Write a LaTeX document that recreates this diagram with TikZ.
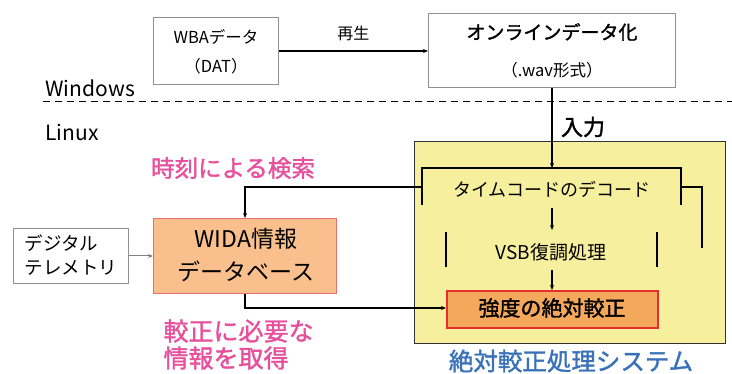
\documentclass[tikz,border=0pt]{standalone}
\usepackage{fontspec}
\setmainfont{Noto Sans CJK JP}
\newfontfamily\jpb[FakeBold=1.5]{Noto Sans CJK JP}
\usetikzlibrary{arrows.meta}
\definecolor{sysyellow}{HTML}{F6EF9E}
\definecolor{dbfill}{HTML}{F9C08E}
\definecolor{dbedge}{HTML}{E8706A}
\definecolor{calfill}{HTML}{F4A85C}
\definecolor{caledge}{HTML}{E62E2E}
\definecolor{pinktxt}{HTML}{E6509C}
\definecolor{bluetxt}{HTML}{3A72B8}
\definecolor{boxedge}{HTML}{909090}
\tikzset{
  wbox/.style={draw=boxedge, line width=0.9pt, fill=white},
  conn/.style={line width=1.1pt, -{Stealth[length=5pt,width=4pt]}},
  line/.style={line width=1.1pt},
  fs/.style={font=\fontsize{#1}{#1}\selectfont}
}
\begin{document}
\begin{tikzpicture}[x=1pt,y=-1pt]
\useasboundingbox (0,0) rectangle (732,374);
% Windows / Linux separator
\draw[line width=1pt, dash pattern=on 7pt off 5pt] (43,102) -- (732,102);
\node[anchor=west, fs=21] (win) at (42,88) {Windows};
\node[anchor=west, fs=21] (lin) at (42,133) {Linux};
% WBA box
\node[wbox, minimum width=125pt, minimum height=67pt, anchor=north west, inner sep=0pt] (wba) at (153,17) {};
\node[fs=16.5] (wbat1) at (216,37) {WBAデータ};
\node[fs=16.5] (wbat2) at (216,66) {（DAT）};
% Online box
\node[wbox, minimum width=247pt, minimum height=74pt, anchor=north west, inner sep=0pt] (onl) at (428,13) {};
\node[font=\jpb\fontsize{19}{19}\selectfont] (onlt1) at (552,32) {オンラインデータ化};
\node[fs=16.5] (onlt2) at (552,70) {（.wav形式）};
\draw[conn] (wba.east |- 0,51) -- (onl.west |- 0,51) node[midway, above=6pt, fs=16] (play) {再生};
% system box
\node[draw=black!80, line width=1.2pt, fill=sysyellow, minimum width=311pt, minimum height=202pt, anchor=north west, inner sep=0pt] (sys) at (414,141) {};
\node[font=\jpb\fontsize{22}{22}\selectfont] (inp) at (583,127) {入力};
% timecode decode bracket box
\coordinate (tcl) at (422,168);
\coordinate (tcr) at (681,168);
\draw[line] (422,205) -- (tcl) -- (tcr) -- (681,205);
\node[fs=18] (tc) at (552,189) {タイムコードのデコード};
\draw[conn] (onl.south -| 552,0) -- (552,168);
% VSB
\draw[line] (446,232) -- (446,267);
\draw[line] (657,232) -- (657,267);
\node[fs=19] (vsb) at (551,252) {VSB復調処理};
\draw[conn] (552,208) -- (552,230);
% calibration box
\node[draw=caledge, line width=2.2pt, fill=calfill, minimum width=211pt, minimum height=37pt, anchor=north west, inner sep=0pt] (cal) at (446,290) {};
\node[font=\jpb\fontsize{21}{21}\selectfont] (calt) at (552,308) {強度の絶対較正};
\draw[conn] (552,270) -- (cal.north -| 552,0);
% right connector
\draw[line] (681,187) -- (702,187) -- (702,248);
% WIDA database
\node[draw=dbedge, line width=1.4pt, fill=dbfill, minimum width=183pt, minimum height=75pt, anchor=north west, inner sep=0pt] (db) at (153,218) {};
\node[fs=23] (dbt1) at (246,239) {WIDA情報};
\node[fs=23] (dbt2) at (246,271) {データベース};
% telemetry
\node[wbox, minimum width=115pt, minimum height=55pt, anchor=north west, inner sep=0pt] (tel) at (13,228) {};
\node[fs=18.5, anchor=west] (telt1) at (21,243) {デジタル};
\node[fs=18.5, anchor=west] (telt2) at (21,268) {テレメトリ};
\draw[line width=1pt, draw=gray, -{Stealth[length=5pt,width=4pt]}] (tel.east |- 0,256) -- (db.west |- 0,256);
% search connector
\draw[conn] (422,187) -- (245,187) -- (db.north -| 245,0);
% calibration info connector
\draw[conn] (db.south -| 245,0) -- (245,308) -- (cal.west |- 0,308);
% coloured labels
\node[font=\jpb\fontsize{23.5}{23.5}\selectfont, text=pinktxt] (srch) at (233,168) {時刻による検索};
\node[font=\jpb\fontsize{25}{25}\selectfont, text=pinktxt, anchor=west] (get1) at (160,331) {較正に必要な};
\node[font=\jpb\fontsize{25}{25}\selectfont, text=pinktxt, anchor=west] (get2) at (160,358) {情報を取得};
\node[font=\jpb\fontsize{24.5}{24.5}\selectfont, text=bluetxt] (systitle) at (571,361) {絶対較正処理システム};
\end{tikzpicture}
\end{document}
